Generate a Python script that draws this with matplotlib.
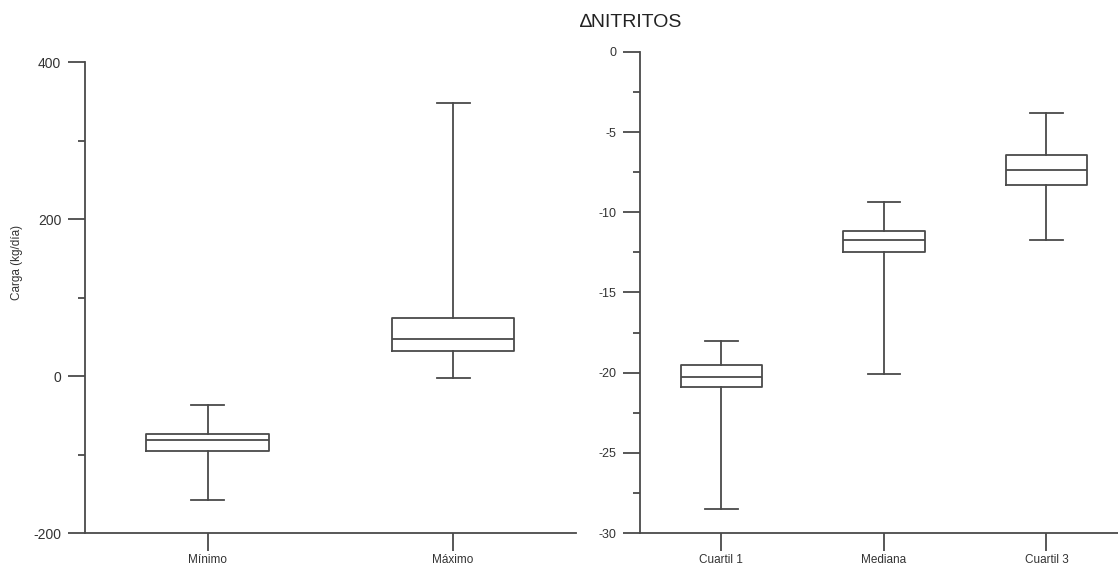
import matplotlib.pyplot as plt
from matplotlib.ticker import MultipleLocator

plt.rcParams['font.family'] = ['Liberation Sans', 'DejaVu Sans']
plt.rcParams['axes.unicode_minus'] = False

# left panel: load (kg/dia)
cats_left = ['Mínimo', 'Máximo']
left_whislo = [-158, -2.5]
left_q1 = [-96, 32]
left_med = [-81, 47.5]
left_q3 = [-74, 73.5]
left_whishi = [-37, 348]

# right panel: delta nitritos
cats_right = ['Cuartil 1', 'Mediana', 'Cuartil 3']
right_whislo = [-28.5, -20.1, -11.7]
right_q1 = [-20.9, -12.5, -8.3]
right_med = [-20.3, -11.7, -7.35]
right_q3 = [-19.5, -11.15, -6.45]
right_whishi = [-18.05, -9.35, -3.8]

GREY = '#4a4a4a'
TXT = '#333333'


def make_stats(cats, lo, q1, med, q3, hi):
    return [dict(label=c, whislo=a, q1=b, med=m, q3=d, whishi=e)
            for c, a, b, m, d, e in zip(cats, lo, q1, med, q3, hi)]


def style_axes(ax, ysize):
    for s in ['top', 'right']:
        ax.spines[s].set_visible(False)
    for s in ['left', 'bottom']:
        ax.spines[s].set_color(GREY)
        ax.spines[s].set_linewidth(1.3)
    ax.tick_params(axis='y', which='major', direction='out', length=12, width=1.3,
                   color=GREY, labelsize=ysize, labelcolor=TXT, pad=5)
    ax.tick_params(axis='y', which='minor', direction='out', length=5, width=1.3, color=GREY)
    ax.tick_params(axis='x', which='major', direction='out', length=13, width=1.3,
                   color=GREY, labelsize=8.5, labelcolor=TXT, pad=2)


line_props = dict(color=GREY, linewidth=1.3)

fig = plt.figure(figsize=(11.18, 5.70), dpi=100)

ax1 = fig.add_axes([0.076, 0.0649, 0.439, 0.8263])
ax1.bxp(make_stats(cats_left, left_whislo, left_q1, left_med, left_q3, left_whishi),
        positions=[1, 2], widths=0.5, capwidths=0.135, showfliers=False,
        boxprops=line_props, whiskerprops=line_props, capprops=line_props,
        medianprops=line_props)
ax1.set_xlim(0.5, 2.5)
ax1.set_ylim(-200, 400)
ax1.yaxis.set_major_locator(MultipleLocator(200))
ax1.yaxis.set_minor_locator(MultipleLocator(100))
style_axes(ax1, 10)
ax1.set_ylabel('Carga (kg/día)', fontsize=8.5, color=TXT)
ax1.yaxis.set_label_coords(-0.126, 0.575)

ax2 = fig.add_axes([0.5725, 0.0649, 0.4275, 0.8439])
ax2.bxp(make_stats(cats_right, right_whislo, right_q1, right_med, right_q3, right_whishi),
        positions=[1, 2, 3], widths=0.5, capwidths=0.2, showfliers=False,
        boxprops=line_props, whiskerprops=line_props, capprops=line_props,
        medianprops=line_props)
ax2.set_xlim(0.5, 3.44)
ax2.set_ylim(-30, 0)
ax2.yaxis.set_major_locator(MultipleLocator(5))
ax2.yaxis.set_minor_locator(MultipleLocator(2.5))
style_axes(ax2, 9)

fig.text(0.519, 0.961, '∆NITRITOS', fontsize=14, color='#222222', va='center', ha='left')

fig.savefig('out.png', dpi=100, facecolor='white')
